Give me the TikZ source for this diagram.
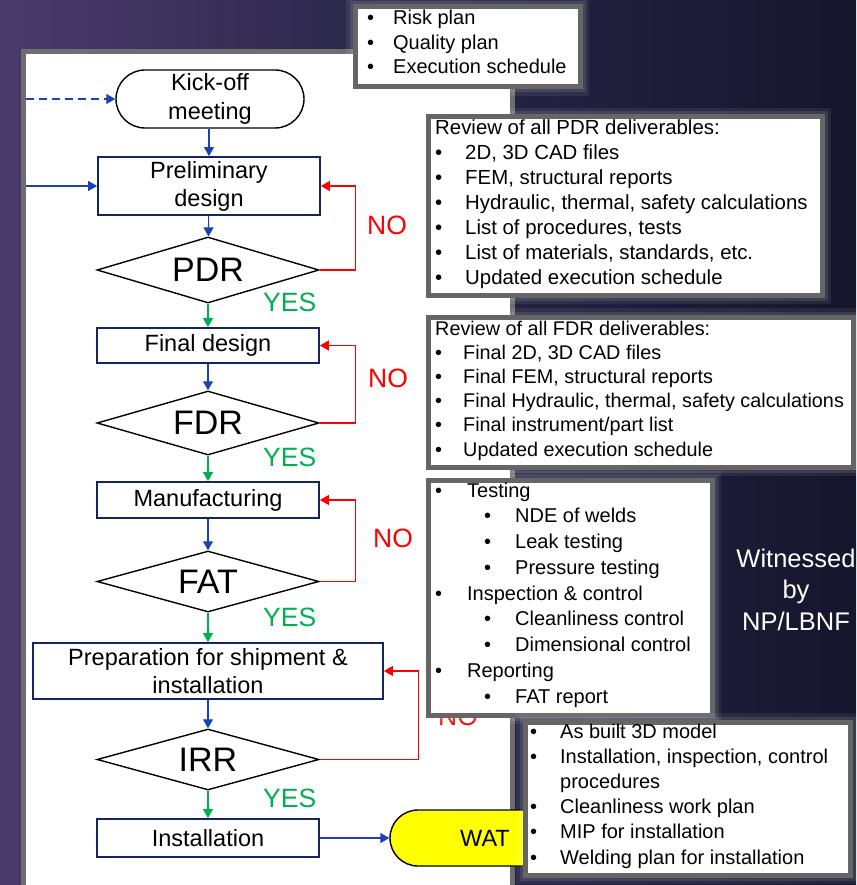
\documentclass[tikz,border=0pt]{standalone}
\usepackage{fontspec}
\setmainfont{Liberation Sans}
\usetikzlibrary{arrows.meta,shapes.geometric,shapes.misc}

\definecolor{bgleft}{HTML}{4B3A6C}
\definecolor{bgmid}{HTML}{272548}
\definecolor{bgright}{HTML}{15162C}
\definecolor{framegray}{HTML}{6E6E6E}
\definecolor{boxgray}{HTML}{666666}
\definecolor{navy}{HTML}{14245E}
\definecolor{flowblue}{HTML}{1B42B4}
\definecolor{okgreen}{HTML}{00B050}
\definecolor{nored}{HTML}{FF0000}
\definecolor{watyellow}{HTML}{FFFF00}

\newcommand\flowfont{\fontsize{23.5}{28}\selectfont}
\newcommand\gatefont{\fontsize{34}{38}\selectfont}
\newcommand\answerfont{\fontsize{26.5}{30}\selectfont}
\newcommand\bitem[2]{\makebox[#1][l]{\textbullet}#2}

\begin{document}
\begin{tikzpicture}[x=1pt,y=-1pt,
  process/.style={rectangle, draw=navy, line width=1.8, fill=white, inner sep=0,
    minimum width=222, align=center, font=\flowfont},
  decision/.style={diamond, draw=black, line width=1.4, fill=white, inner sep=0,
    aspect=3.4, minimum width=222, font=\gatefont},
  terminal/.style={rounded rectangle, draw=black, line width=1.4, inner sep=0,
    align=center, font=\flowfont},
  flowarrow/.style={draw=flowblue, line width=1.1, -{Triangle[length=9pt,width=10pt]}},
  yesarrow/.style={draw=okgreen, line width=1.1, -{Triangle[length=9pt,width=10pt]}},
  noarrow/.style={draw=nored, line width=1.1, -{Triangle[length=9pt,width=10pt]}},
  yeslabel/.style={text=okgreen, font=\answerfont, anchor=base west, inner sep=0},
  nolabel/.style={text=nored, font=\answerfont, anchor=base west, inner sep=0},
  sidebox/.style={rectangle, draw=boxgray, line width=5, fill=white, inner sep=0,
    anchor=north west,
    preaction={draw=white, draw opacity=0.07, line width=18},
    preaction={draw=white, draw opacity=0.10, line width=11}},
  listtext/.style={anchor=base west, inner sep=0, text=black},
]
\useasboundingbox (0,0) rectangle (856,885);

% slide background
\fill[left color=bgleft, right color=bgright, middle color=bgmid] (0,0) rectangle (856,885);

% white panel holding the flowchart
\draw[framegray, line width=5, fill=white] (23.5,51.5) rectangle (512.5,887);

% flowchart nodes
\node[terminal, fill=white, minimum width=188, minimum height=58] (kick) at (210,99) {Kick-off\\[1pt]meeting};
\node[process, minimum height=58] (prelim) at (209,186) {Preliminary\\design};
\node[decision, minimum height=66] (pdr) at (208,270) {PDR};
\node[process, minimum height=35] (final) at (208,345.5) {Final design};
\node[decision, minimum height=64] (fdr) at (208,423) {FDR};
\node[process, minimum height=36] (manuf) at (208,500) {Manufacturing};
\node[decision, minimum height=61] (fat) at (208,581.5) {FAT};
\node[process, minimum width=350, minimum height=56] (prep) at (208,671) {Preparation for shipment \&\\installation};
\node[decision, minimum height=61] (irr) at (208,759.5) {IRR};
\node[process, minimum height=38] (install) at (208,838) {Installation};
\node[terminal, fill=watyellow, minimum width=190, minimum height=56] (wat) at (485,838) {WAT};

% incoming links from the panel edge
\coordinate (dashin) at (26,99);
\coordinate (solidin) at (26,186);
\draw[flowarrow, dash pattern=on 8pt off 5pt] (dashin) -- (kick.west);
\draw[flowarrow] (solidin) -- (prelim.west);

% main sequence
\draw[flowarrow] (kick.south -| prelim.north) -- (prelim.north);
\draw[flowarrow] (prelim) -- (pdr);
\draw[yesarrow] (pdr) -- (final);
\draw[flowarrow] (final) -- (fdr);
\draw[yesarrow] (fdr) -- (manuf);
\draw[flowarrow] (manuf) -- (fat);
\draw[yesarrow] (fat) -- (prep);
\draw[flowarrow] (prep) -- (irr);
\draw[yesarrow] (irr) -- (install);
\draw[flowarrow] (install) -- (wat);

% rework loops
\draw[noarrow] (pdr.east) -- ++(36,0) |- (prelim.east);
\draw[noarrow] (fdr.east) -- ++(36,0) |- (final.east);
\draw[noarrow] (fat.east) -- ++(36,0) |- (manuf.east);
\draw[noarrow] (irr.east) -- ++(99,0) |- (prep.east);

% decision answers
\node[yeslabel] (pdryes) at (263,311) {YES};
\node[nolabel] (pdrno) at (367,235) {NO};
\node[yeslabel] (fdryes) at (263,466) {YES};
\node[nolabel] (fdrno) at (368,387) {NO};
\node[yeslabel] (fatyes) at (263,626) {YES};
\node[nolabel] (fatno) at (373,547) {NO};
\node[yeslabel] (irryes) at (263,807) {YES};
\node[nolabel] (irrno) at (438,725) {NO};

% deliverable boxes
\node[sidebox, minimum width=225, minimum height=80] (planbox) at (352.5,4.5) {};
\node[listtext] (planlist) at (367,25) {\parbox[t]{220pt}{\raggedright\fontsize{20}{24.5}\selectfont
  \bitem{26pt}{Risk plan}\\
  \bitem{26pt}{Quality plan}\\
  \bitem{26pt}{Execution schedule}}};

\node[sidebox, minimum width=394, minimum height=178] (pdrbox) at (425.5,114.5) {};
\node[listtext] (pdrlist) at (435,135) {\parbox[t]{390pt}{\raggedright\fontsize{20.4}{25}\selectfont
  Review of all PDR deliverables:\\
  \bitem{30pt}{2D, 3D CAD files}\\
  \bitem{30pt}{FEM, structural reports}\\
  \bitem{30pt}{Hydraulic, thermal, safety calculations}\\
  \bitem{30pt}{List of procedures, tests}\\
  \bitem{30pt}{List of materials, standards, etc.}\\
  \bitem{30pt}{Updated execution schedule}}};

\node[sidebox, minimum width=425, minimum height=150] (fdrbox) at (425.5,314.5) {};
\node[listtext] (fdrlist) at (435,335) {\parbox[t]{420pt}{\raggedright\fontsize{19.8}{24.2}\selectfont
  Review of all FDR deliverables:\\
  \bitem{28pt}{Final 2D, 3D CAD files}\\
  \bitem{28pt}{Final FEM, structural reports}\\
  \bitem{28pt}{Final Hydraulic, thermal, safety calculations}\\
  \bitem{28pt}{Final instrument/part list}\\
  \bitem{28pt}{Updated execution schedule}}};

\node[sidebox, minimum width=284, minimum height=235] (fatbox) at (425.5,477.5) {};
\node[listtext] (fatlist) at (435,497) {\parbox[t]{280pt}{\raggedright\fontsize{20}{25.75}\selectfont
  \bitem{32pt}{Testing}\\
  \hspace*{49pt}\bitem{31pt}{NDE of welds}\\
  \hspace*{49pt}\bitem{31pt}{Leak testing}\\
  \hspace*{49pt}\bitem{31pt}{Pressure testing}\\
  \bitem{32pt}{Inspection \& control}\\
  \hspace*{49pt}\bitem{31pt}{Cleanliness control}\\
  \hspace*{49pt}\bitem{31pt}{Dimensional control}\\
  \bitem{32pt}{Reporting}\\
  \hspace*{49pt}\bitem{31pt}{FAT report}}};

\node[sidebox, minimum width=325, minimum height=153] (irrbox) at (522.5,719.5) {};
\node[listtext] (irrlist) at (530,738) {\parbox[t]{320pt}{\raggedright\fontsize{20}{25.2}\selectfont
  \bitem{30pt}{As built 3D model}\\
  \bitem{30pt}{Installation, inspection, control}\\
  \hspace*{30pt}procedures\\
  \bitem{30pt}{Cleanliness work plan}\\
  \bitem{30pt}{MIP for installation}\\
  \bitem{30pt}{Welding plan for installation}}};

% witness note
\node[anchor=base, inner sep=0, text=white] (witness) at (796,567) {\parbox[t]{140pt}{\centering\fontsize{25.5}{31.5}\selectfont
  Witnessed\\by\\NP/LBNF}};
\end{tikzpicture}
\end{document}
